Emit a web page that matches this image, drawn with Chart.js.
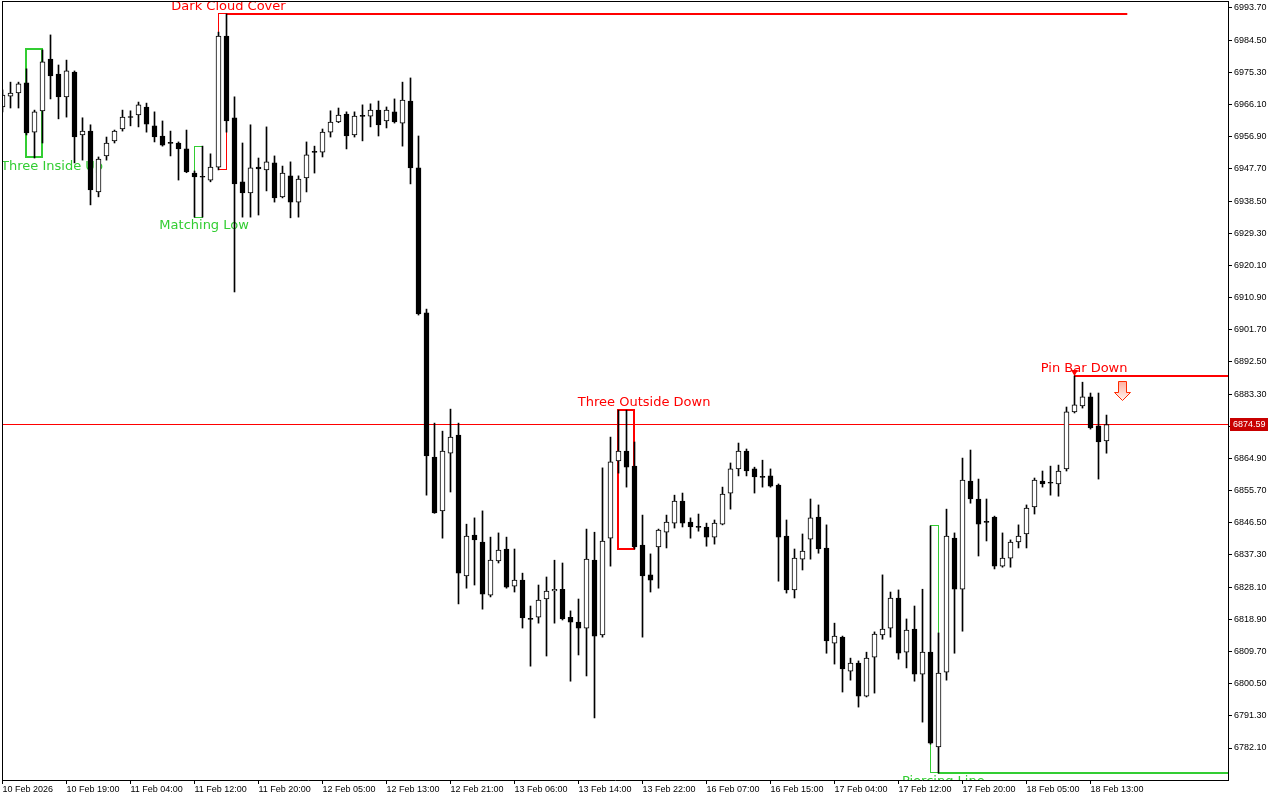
<!DOCTYPE html>
<html>
<head>
<meta charset="utf-8">
<title>US500 H1</title>
<script src="https://cdn.jsdelivr.net/npm/chart.js@4.4.1/dist/chart.umd.min.js"></script>
<style>
  html, body { margin: 0; padding: 0; background: #fff; }
  canvas { display: block; }
</style>
</head>
<body>
<canvas id="priceChart" width="1280" height="800"></canvas>
<script>
// hourly bars (index 0 = first visible bar)
const opens = [
  6965.4, 6968.5, 6969.4, 6972.3, 6958.2, 6964.3, 6979.1, 6974.8, 6968.3, 6975.4,
  6957.4, 6958.5, 6941.1, 6951.4, 6955.7, 6959.1, 6962.5, 6963.1, 6965.4, 6960.0,
  6957.1, 6955.1, 6955.1, 6953.4, 6946.5, 6945.4, 6944.5, 6948.2, 6985.7, 6962.3,
  6944.0, 6940.8, 6948.2, 6947.4, 6949.4, 6939.7, 6945.7, 6938.2, 6945.1, 6952.5,
  6952.5, 6958.2, 6961.1, 6963.4, 6957.4, 6962.8, 6962.8, 6964.5, 6961.4, 6964.0,
  6960.8, 6967.1, 6948.0, 6906.5, 6865.3, 6849.9, 6866.4, 6871.6, 6831.3, 6843.0,
  6841.0, 6825.8, 6835.6, 6839.0, 6828.4, 6830.1, 6819.0, 6819.5, 6824.7, 6827.0,
  6827.5, 6819.5, 6818.1, 6816.4, 6835.8, 6814.4, 6842.1, 6864.2, 6867.0, 6862.7,
  6840.1, 6831.6, 6839.6, 6843.8, 6846.4, 6852.7, 6846.7, 6845.3, 6845.3, 6842.4,
  6846.1, 6855.0, 6861.9, 6867.0, 6861.9, 6859.6, 6859.9, 6857.3, 6842.7, 6827.3,
  6836.1, 6841.8, 6848.1, 6839.3, 6812.1, 6813.8, 6804.1, 6806.4, 6796.9, 6808.1,
  6814.4, 6816.4, 6825.0, 6809.5, 6816.1, 6803.2, 6809.5, 6782.4, 6803.8, 6842.1,
  6827.5, 6858.4, 6853.3, 6846.7, 6848.1, 6834.1, 6836.4, 6841.0, 6843.3, 6851.0,
  6858.4, 6857.9, 6857.6, 6861.9, 6878.2, 6879.9, 6882.5, 6874.2, 6869.9
];
const highs = [
  6970.3, 6972.5, 6972.5, 6976.3, 6964.5, 6981.7, 6986.0, 6977.4, 6978.8, 6975.7,
  6962.3, 6960.3, 6951.1, 6956.8, 6958.8, 6964.5, 6964.3, 6966.8, 6966.5, 6964.0,
  6961.4, 6958.5, 6955.4, 6958.8, 6947.1, 6954.2, 6952.0, 6986.8, 6992.0, 6968.3,
  6955.1, 6960.3, 6950.8, 6959.7, 6951.4, 6948.5, 6949.7, 6945.7, 6955.4, 6954.2,
  6959.1, 6964.3, 6965.1, 6964.0, 6964.0, 6966.0, 6966.3, 6967.1, 6965.4, 6967.7,
  6972.5, 6973.7, 6957.1, 6907.6, 6875.0, 6872.7, 6879.0, 6875.0, 6846.1, 6847.9,
  6849.9, 6842.4, 6843.6, 6842.4, 6839.0, 6832.1, 6822.7, 6828.7, 6831.0, 6835.8,
  6835.0, 6821.3, 6824.7, 6844.7, 6843.8, 6862.2, 6871.0, 6878.7, 6878.7, 6869.6,
  6848.7, 6837.6, 6844.7, 6848.7, 6854.4, 6855.0, 6847.9, 6849.0, 6846.4, 6847.3,
  6856.7, 6863.6, 6869.3, 6867.6, 6862.4, 6864.4, 6861.9, 6857.6, 6847.3, 6839.0,
  6843.3, 6853.3, 6851.6, 6845.9, 6817.8, 6814.1, 6807.8, 6807.0, 6809.5, 6815.3,
  6831.6, 6826.7, 6827.3, 6819.0, 6822.7, 6827.5, 6845.6, 6815.0, 6850.4, 6843.6,
  6865.0, 6867.3, 6859.0, 6853.3, 6848.4, 6843.6, 6841.6, 6845.9, 6851.6, 6859.3,
  6861.3, 6862.7, 6863.0, 6879.6, 6888.5, 6886.7, 6883.6, 6883.6, 6877.3
];
const lows = [
  6964.0, 6965.1, 6965.1, 6957.4, 6950.8, 6955.1, 6967.7, 6962.0, 6962.5, 6949.4,
  6950.2, 6937.4, 6939.7, 6950.2, 6955.1, 6958.5, 6960.0, 6959.7, 6958.2, 6955.4,
  6954.2, 6951.4, 6944.5, 6946.6, 6933.9, 6933.9, 6944.0, 6947.4, 6958.2, 6912.5,
  6933.9, 6933.9, 6934.5, 6941.4, 6938.2, 6939.4, 6933.7, 6933.9, 6941.1, 6946.5,
  6951.1, 6956.8, 6960.9, 6953.4, 6956.8, 6955.7, 6959.7, 6957.1, 6959.4, 6960.8,
  6954.2, 6943.4, 6905.9, 6854.4, 6849.2, 6842.1, 6855.3, 6823.3, 6827.8, 6828.7,
  6821.8, 6825.3, 6835.0, 6827.8, 6826.7, 6816.4, 6805.5, 6817.8, 6808.4, 6817.8,
  6818.7, 6801.2, 6808.7, 6802.7, 6790.7, 6813.8, 6834.1, 6860.7, 6856.7, 6839.0,
  6813.8, 6826.7, 6827.8, 6839.3, 6845.0, 6845.3, 6842.1, 6844.1, 6839.8, 6840.4,
  6845.9, 6850.4, 6859.9, 6859.9, 6855.0, 6856.7, 6856.7, 6829.8, 6826.4, 6825.0,
  6833.0, 6836.1, 6837.8, 6809.2, 6806.1, 6798.1, 6801.5, 6793.8, 6796.7, 6797.8,
  6813.2, 6813.8, 6807.5, 6805.0, 6801.2, 6789.5, 6783.2, 6774.9, 6801.5, 6809.2,
  6815.5, 6852.1, 6837.0, 6841.3, 6833.3, 6833.8, 6833.8, 6839.3, 6839.3, 6849.0,
  6856.7, 6854.4, 6854.1, 6861.3, 6877.9, 6879.3, 6873.3, 6859.0, 6866.4
];
const closes = [
  6968.8, 6969.4, 6972.0, 6958.0, 6964.0, 6978.3, 6974.3, 6968.3, 6975.7, 6956.8,
  6958.5, 6941.7, 6950.5, 6955.1, 6958.5, 6962.5, 6962.4, 6966.0, 6960.5, 6956.8,
  6954.5, 6955.0, 6953.4, 6946.8, 6945.4, 6945.3, 6948.2, 6985.7, 6961.4, 6943.4,
  6940.8, 6948.0, 6947.7, 6949.7, 6939.4, 6946.5, 6938.2, 6944.8, 6951.7, 6952.4,
  6958.2, 6961.1, 6963.1, 6957.1, 6962.8, 6962.7, 6964.5, 6960.3, 6964.5, 6961.1,
  6967.4, 6948.0, 6906.2, 6865.6, 6849.3, 6867.0, 6871.0, 6832.1, 6842.7, 6841.6,
  6826.1, 6835.8, 6838.7, 6828.1, 6830.1, 6819.3, 6818.9, 6824.4, 6827.0, 6827.5,
  6819.0, 6818.1, 6816.4, 6836.1, 6814.1, 6841.3, 6863.9, 6867.0, 6862.4, 6839.6,
  6831.3, 6830.1, 6844.4, 6846.7, 6852.7, 6846.4, 6845.3, 6845.2, 6842.4, 6846.4,
  6854.7, 6861.9, 6867.0, 6861.3, 6859.6, 6859.5, 6857.0, 6842.4, 6827.3, 6836.4,
  6838.4, 6847.9, 6839.0, 6812.7, 6814.1, 6804.7, 6806.4, 6796.9, 6807.8, 6814.7,
  6816.1, 6825.0, 6809.2, 6815.8, 6803.2, 6809.5, 6783.5, 6803.5, 6842.7, 6827.5,
  6858.7, 6853.3, 6846.1, 6846.6, 6834.1, 6836.4, 6841.0, 6842.7, 6850.7, 6858.7,
  6857.6, 6857.8, 6861.3, 6878.2, 6880.2, 6882.5, 6873.6, 6869.6, 6874.59
];

const timeLabels = [
  "10 Feb 2026", "10 Feb 19:00", "11 Feb 04:00", "11 Feb 12:00", "11 Feb 20:00",
  "12 Feb 05:00", "12 Feb 13:00", "12 Feb 21:00", "13 Feb 06:00", "13 Feb 14:00",
  "13 Feb 22:00", "16 Feb 07:00", "16 Feb 15:00", "17 Feb 04:00", "17 Feb 12:00",
  "17 Feb 20:00", "18 Feb 05:00", "18 Feb 13:00"
];
const labelBars = [0, 8, 16, 24, 32, 40, 48, 56, 64, 72, 80, 88, 96, 104, 112, 120, 128, 136];

const priceTicks = [
  6782.1, 6791.3, 6800.5, 6809.7, 6818.9, 6828.1, 6837.3, 6846.5, 6855.7, 6864.9,
  6874.1, 6883.3, 6892.5, 6901.7, 6910.9, 6920.1, 6929.3, 6938.5, 6947.7, 6956.9,
  6966.1, 6975.3, 6984.5, 6993.7
];
const lastPrice = 6874.59;

// visible window
const barMin = -0.0625, barMax = 153.1875;
const priceMin = 6772.95, priceMax = 6995.7;

// candle patterns found by the indicator
const patterns = [
  { name: "Three Inside Up", from: 3, to: 5, color: "#32cd32", width: 2, box: true, labelBar: 6.2, side: "below" },
  { name: "Matching Low", from: 24, to: 25, color: "#32cd32", width: 1, box: true, labelBar: 25.2, side: "below" },
  { name: "Dark Cloud Cover", from: 27, to: 28, color: "#ff0000", width: 1, box: true, labelBar: 28.25, side: "above", lineAt: "high", lineTo: 140.6 },
  { name: "Three Outside Down", from: 77, to: 79, color: "#ff0000", width: 2, box: true, labelBar: 80.2, side: "above" },
  { name: "Piercing Line", from: 116, to: 117, color: "#32cd32", width: 1, box: true, labelBar: 117.6, side: "below", lineAt: "low", lineTo: barMax },
  { name: "Pin Bar Down", from: 134, to: 134, color: "#ff0000", width: 2, box: false, labelBar: 135.2, side: "above", lineAt: "high", lineTo: barMax, marker: true }
];
const signalArrow = { bar: 139.9, price: 6887.0 };

const isUp = (i) => closes[i] > opens[i];

const drawPattern = (ctx, x, y, p) => {
  const hi = Math.max(...highs.slice(p.from, p.to + 1));
  const lo = Math.min(...lows.slice(p.from, p.to + 1));
  const x1 = x.getPixelForValue(p.from);
  const x2 = x.getPixelForValue(p.to);
  const y1 = y.getPixelForValue(hi);
  const y2 = y.getPixelForValue(lo);
  ctx.strokeStyle = p.color;
  ctx.fillStyle = p.color;

  if (p.box) {
    ctx.lineWidth = p.width;
    const s = p.width % 2 ? 0.5 : 0;
    ctx.strokeRect(Math.floor(x1) + s, Math.floor(y1) + s, Math.round(x2 - x1), Math.round(y2 - y1));
  }
  if (p.lineTo !== undefined) {
    const ly = Math.round(p.lineAt === "high" ? y1 : y2);
    ctx.lineWidth = 2;
    ctx.beginPath();
    ctx.moveTo(Math.floor(x2), ly);
    ctx.lineTo(x.getPixelForValue(p.lineTo), ly);
    ctx.stroke();
  }
  if (p.marker) {
    const mx = Math.floor(x1) + 0.5;
    const my = Math.round(y1);
    ctx.beginPath();
    ctx.moveTo(mx - 3.5, my - 6);
    ctx.lineTo(mx + 3.5, my - 6);
    ctx.lineTo(mx, my);
    ctx.closePath();
    ctx.fill();
  }

  ctx.font = '13px "DejaVu Sans"';
  ctx.textAlign = "center";
  const lx = x.getPixelForValue(p.labelBar);
  if (p.side === "above") {
    ctx.textBaseline = "bottom";
    ctx.fillText(p.name, lx, y1 - 1);
  } else {
    ctx.textBaseline = "top";
    ctx.fillText(p.name, lx, y2 + 2);
  }
};

const overlayPlugin = {
  id: "overlays",
  beforeDatasetsDraw(chart) {
    const { ctx, chartArea: a, scales: { x, y } } = chart;
    ctx.save();
    ctx.beginPath();
    ctx.rect(a.left, a.top, a.right - a.left, a.bottom - a.top);
    ctx.clip();

    // last price line
    ctx.fillStyle = "#ff0000";
    ctx.fillRect(a.left, Math.floor(y.getPixelForValue(lastPrice)), a.right - a.left, 1);

    patterns.forEach((p) => drawPattern(ctx, x, y, p));

    // sell arrow next to the pin bar
    const ax = Math.round(x.getPixelForValue(signalArrow.bar)) + 0.5;
    const ay = Math.round(y.getPixelForValue(signalArrow.price)) + 0.5;
    const grad = ctx.createLinearGradient(ax, ay, ax, ay + 19);
    grad.addColorStop(0, "#ffb0a0");
    grad.addColorStop(1, "#fff4f0");
    ctx.beginPath();
    ctx.moveTo(ax - 4, ay);
    ctx.lineTo(ax + 4, ay);
    ctx.lineTo(ax + 4, ay + 11);
    ctx.lineTo(ax + 8, ay + 11);
    ctx.lineTo(ax, ay + 19);
    ctx.lineTo(ax - 8, ay + 11);
    ctx.lineTo(ax - 4, ay + 11);
    ctx.closePath();
    ctx.fillStyle = grad;
    ctx.fill();
    ctx.strokeStyle = "#ff2a00";
    ctx.lineWidth = 1;
    ctx.stroke();
    ctx.restore();
  },
  afterDraw(chart) {
    const { ctx, chartArea: a, scales: { y } } = chart;
    ctx.save();
    // top and left edges of the frame
    ctx.fillStyle = "#000";
    ctx.fillRect(a.left, a.top, a.right - a.left, 1);
    ctx.fillRect(a.left, a.top, 1, a.bottom - a.top);

    // last price tag on the axis
    const ty = Math.floor(y.getPixelForValue(lastPrice));
    ctx.fillStyle = "#c80000";
    ctx.fillRect(a.right + 2, ty - 6, 38, 13);
    ctx.fillStyle = "#fff";
    ctx.font = '9px "Liberation Sans"';
    ctx.textAlign = "left";
    ctx.textBaseline = "middle";
    ctx.fillText(lastPrice.toFixed(2), a.right + 5, ty + 1);
    ctx.restore();
  }
};

const bodies = opens.map((o, i) => ({ x: i, y: [o, closes[i]] }));
const wicks = highs.map((h, i) => ({ x: i, y: [lows[i], h] }));

new Chart(document.getElementById("priceChart").getContext("2d"), {
  type: "bar",
  data: {
    datasets: [
      {
        label: "body",
        data: bodies,
        order: 0,
        grouped: false,
        barThickness: 5,
        minBarLength: 1,
        borderWidth: 1,
        borderColor: "#000",
        borderSkipped: false,
        backgroundColor: (c) => (isUp(c.dataIndex) ? "#fff" : "#000"),
      },
      {
        label: "wick",
        data: wicks,
        order: 1,
        grouped: false,
        barThickness: 1,
        borderWidth: 0,
        backgroundColor: "#000",
      },
    ],
  },
  options: {
    responsive: false,
    animation: false,
    events: [],
    layout: { autoPadding: false, padding: { left: 2, top: 1, right: 0, bottom: 0 } },
    plugins: { legend: { display: false }, tooltip: { enabled: false } },
    scales: {
      x: {
        type: "linear",
        min: barMin,
        max: barMax,
        offset: false,
        afterBuildTicks: (s) => {
          s.ticks = labelBars.map((v) => ({ value: v }));
        },
        afterFit: (s) => {
          s.height = 20;
          s.paddingLeft = 0;
          s.paddingRight = 0;
        },
        ticks: {
          callback: (v, i) => timeLabels[i],
          align: "start",
          autoSkip: false,
          maxRotation: 0,
          padding: 0,
          color: "#000",
          font: { family: "Liberation Sans", size: 9 },
        },
        grid: { drawOnChartArea: false, offset: false, tickLength: 4, color: "#000" },
        border: { display: true, color: "#000" },
      },
      y: {
        position: "right",
        min: priceMin,
        max: priceMax,
        afterBuildTicks: (s) => {
          s.ticks = priceTicks.map((v) => ({ value: v }));
        },
        afterFit: (s) => {
          s.width = 52;
          s.paddingTop = 0;
          s.paddingBottom = 0;
        },
        ticks: {
          callback: (v) => v.toFixed(2),
          autoSkip: false,
          padding: 2,
          color: "#000",
          font: { family: "Liberation Sans", size: 9 },
        },
        grid: { drawOnChartArea: false, tickLength: 4, color: "#000" },
        border: { display: true, color: "#000" },
      },
    },
  },
  plugins: [overlayPlugin],
});
</script>
</body>
</html>
